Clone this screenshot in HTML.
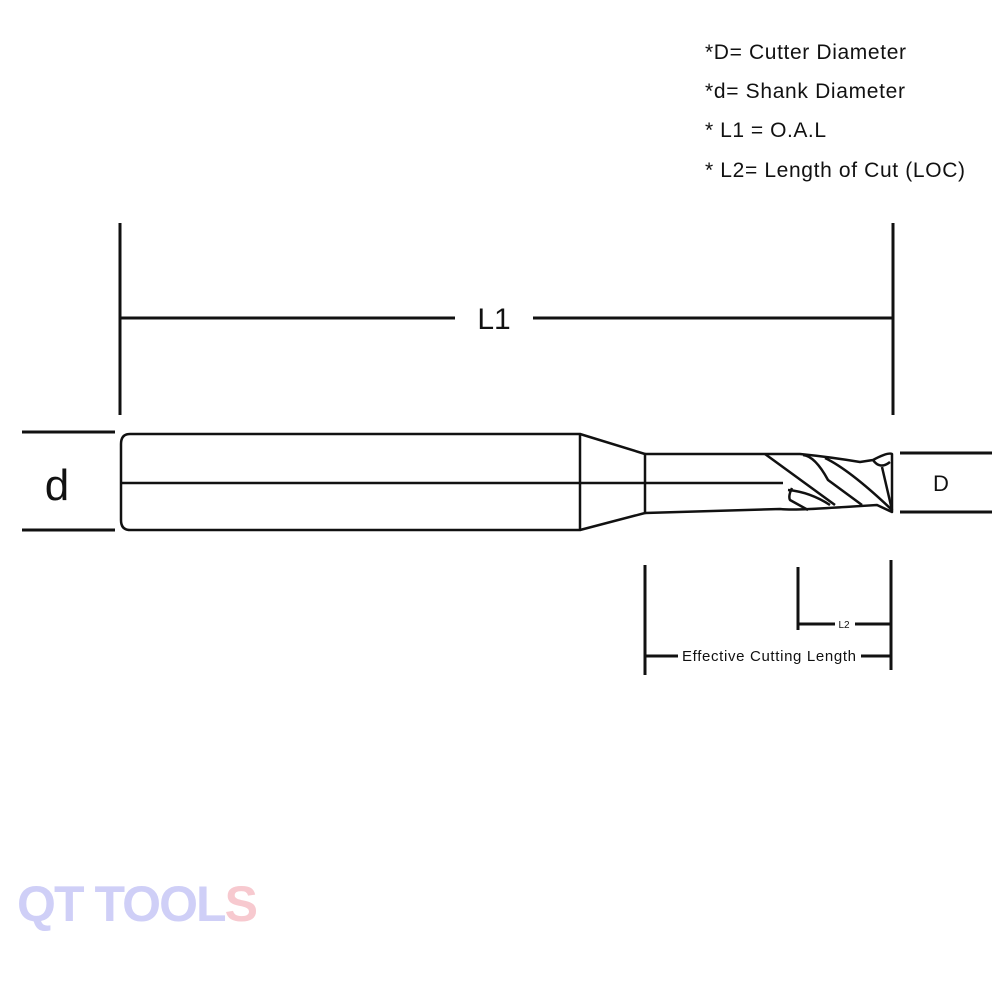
<!DOCTYPE html>
<html><head><style>body{margin:0;background:#fff}svg{display:block}</style></head><body>
<svg width="1000" height="1000" viewBox="0 0 1000 1000" xmlns="http://www.w3.org/2000/svg" font-family="Liberation Sans, sans-serif">
<g fill="#111" font-size="21">
<text x="705" y="59" textLength="201">*D= Cutter Diameter</text>
<text x="705" y="98" textLength="200">*d= Shank Diameter</text>
<text x="705" y="137" textLength="121">* L1 = O.A.L</text>
<text x="705" y="177" textLength="260">* L2= Length of Cut (LOC)</text>
</g>
<g stroke="#111" stroke-width="3" fill="none">
<line x1="120" y1="223" x2="120" y2="415"/>
<line x1="893" y1="223" x2="893" y2="415"/>
<line x1="120" y1="318" x2="455" y2="318"/>
<line x1="533" y1="318" x2="893" y2="318"/>
<line x1="22" y1="432" x2="115" y2="432"/>
<line x1="22" y1="530" x2="115" y2="530"/>
<line x1="900" y1="453" x2="992" y2="453"/>
<line x1="900" y1="512" x2="992" y2="512"/>
<line x1="645" y1="565" x2="645" y2="675"/>
<line x1="891" y1="560" x2="891" y2="670"/>
<line x1="798" y1="567" x2="798" y2="630"/>
<line x1="798" y1="624" x2="835" y2="624"/>
<line x1="855" y1="624" x2="891" y2="624"/>
<line x1="645" y1="656" x2="678" y2="656"/>
<line x1="861" y1="656" x2="891" y2="656"/>
</g>
<text x="494" y="329" font-size="30" text-anchor="middle" fill="#111">L1</text>
<text x="57" y="500" font-size="44" text-anchor="middle" fill="#111">d</text>
<text x="941" y="491" font-size="22" text-anchor="middle" fill="#111">D</text>
<text x="844" y="628" font-size="10" text-anchor="middle" fill="#111">L2</text>
<text x="682" y="661" font-size="15" textLength="174" fill="#111">Effective Cutting Length</text>
<g stroke="#111" stroke-width="2.5" fill="none" stroke-linejoin="round">
<path d="M130,434 L580,434 L580,530 L130,530 Q121,530 121,520 L121,444 Q121,434 130,434 Z"/>
<line x1="121" y1="483" x2="783" y2="483"/>
<path d="M580,434 L645,454 L645,513 L580,530"/>
<path d="M645,454 L800,454 Q830,457 860,462 L873,460 Q888,452 892,454 L892,512 L877,505 Q830,508 810,509 Q790,510 780,509 L645,513"/>
<path d="M765,454 L835,505"/>
<path d="M803,455 Q815,456 828,480 L862,505"/>
<path d="M825,458 Q850,470 892,510"/>
<path d="M792,488 Q788,496 790,500 L808,510"/>
<path d="M788,490 Q810,492 830,505"/>
<path d="M873,460 Q880,470 890,462"/>
<path d="M882,467 L892,510"/>
</g>
<text x="17" y="921" font-size="50" font-weight="bold" textLength="241" fill="#cfcff7" style="font-weight:600">QT TOOL<tspan fill="#f7c9cf">S</tspan></text>
</svg>
</body></html>
